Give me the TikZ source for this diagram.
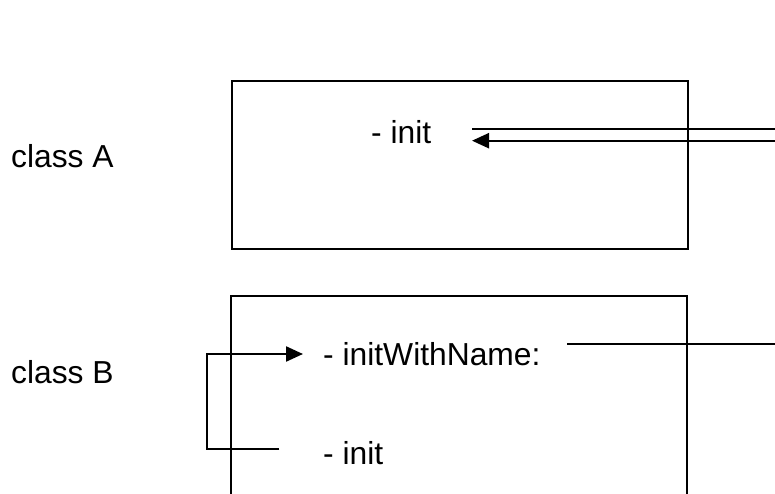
\documentclass[tikz,border=0pt]{standalone}
\usepackage{fontspec}
\setmainfont{Liberation Sans}
\usetikzlibrary{arrows.meta}
\begin{document}
\begin{tikzpicture}[x=1pt,y=-1pt,
  lbl/.style={anchor=base west,inner sep=0pt,font=\fontsize{31.8}{38}\selectfont},
  boxline/.style={line width=1.8pt},
  conn/.style={line width=2.3pt},
  tip/.style={-{Triangle[length=17pt,width=15pt]}}]
\useasboundingbox (0,0) rectangle (775,494);
% class labels
\node[lbl] (clsA) at (11,168) {class A};
\node[lbl] (clsB) at (11,383) {class B};
% boxes
\node[draw,boxline,minimum width=456pt,minimum height=168pt,inner sep=0pt,anchor=north west] (boxA) at (231,80) {};
\coordinate (bBL) at (231,494);
\coordinate (bTL) at (231,296);
\coordinate (bTR) at (687,296);
\coordinate (bBR) at (687,494);
\draw[boxline] (bBL) -- (bTL) -- (bTR) -- (bBR);
% texts
\node[lbl] (initA) at (371,144) {- init};
\node[lbl] (iwn) at (323,365) {- initWithName:};
\node[lbl] (initB) at (323,464) {- init};
% connectors class A
\coordinate (a1s) at (472,129);
\coordinate (a1e) at (775,129);
\coordinate (a2s) at (775,140.7);
\coordinate (a2e) at (472,140.7);
\draw[conn] (a1s) -- (a1e);
\draw[conn,tip] (a2s) -- (a2e);
% connectors class B
\coordinate (b1s) at (567,344.3);
\coordinate (b1e) at (775,344.3);
\draw[conn] (b1s) -- (b1e);
\coordinate (brB) at (279.3,449);
\coordinate (brL1) at (206.7,449);
\coordinate (brL2) at (206.7,354);
\coordinate (brT) at (303,354);
\draw[conn,tip] (brB) -- (brL1) -- (brL2) -- (brT);
\end{tikzpicture}
\end{document}
